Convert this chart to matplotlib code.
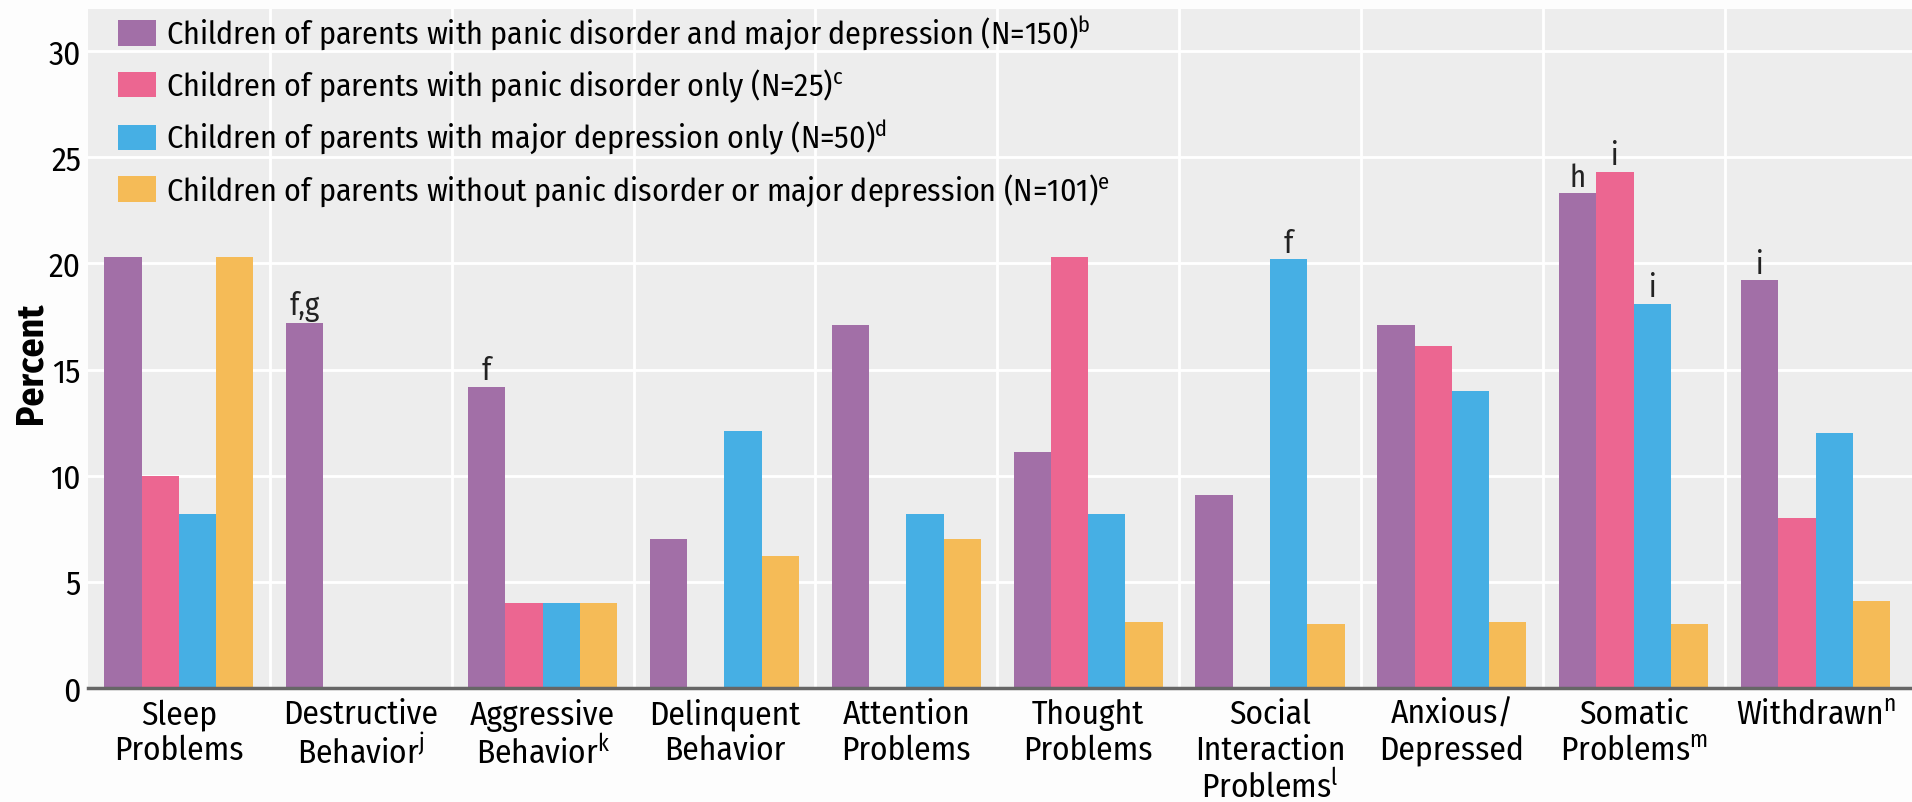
import numpy as np
import matplotlib
matplotlib.use("Agg")
import matplotlib.pyplot as plt

FONT = "Fira Sans Condensed"
plt.rcParams['font.family'] = [FONT, 'DejaVu Sans']
plt.rcParams['mathtext.fontset'] = 'custom'
plt.rcParams['mathtext.rm'] = FONT
plt.rcParams['mathtext.it'] = FONT

# Categories (x tick labels)
categories = [
    "Sleep\nProblems",
    "Destructive\nBehavior$^{\\mathrm{j}}$",
    "Aggressive\nBehavior$^{\\mathrm{k}}$",
    "Delinquent\nBehavior",
    "Attention\nProblems",
    "Thought\nProblems",
    "Social\nInteraction\nProblems$^{\\mathrm{l}}$",
    "Anxious/\nDepressed",
    "Somatic\nProblems$^{\\mathrm{m}}$",
    "Withdrawn$^{\\mathrm{n}}$",
]

series_labels = [
    "Children of parents with panic disorder and major depression (N=150)$^{\\mathrm{b}}$",
    "Children of parents with panic disorder only (N=25)$^{\\mathrm{c}}$",
    "Children of parents with major depression only (N=50)$^{\\mathrm{d}}$",
    "Children of parents without panic disorder or major depression (N=101)$^{\\mathrm{e}}$",
]

panic_and_md = [20.3, 17.2, 14.2, 7.0, 17.1, 11.1, 9.1, 17.1, 23.3, 19.2]
panic_only = [10.0, 0, 4.0, 0, 0, 20.3, 0, 16.1, 24.3, 8.0]
md_only = [8.2, 0, 4.0, 12.1, 8.2, 8.2, 20.2, 14.0, 18.1, 12.0]
neither = [20.3, 0, 4.0, 6.2, 7.0, 3.1, 3.0, 3.1, 3.0, 4.1]

# significance letters: (category index, series index, text)
notes = [(1, 0, "f,g"), (2, 0, "f"), (6, 2, "f"), (8, 0, "h"),
         (8, 1, "i"), (8, 2, "i"), (9, 0, "i")]

colors = ["#a26fa7", "#ec6691", "#46afe4", "#f5bb57"]

series = [panic_and_md, panic_only, md_only, neither]

fig = plt.figure(figsize=(19.12, 8.03), dpi=100, facecolor="#fdfdfd")
ax = fig.add_axes([0.046, 0.142, 0.954, 0.846])
ax.set_facecolor("#ededed")

x = np.arange(len(categories))
w = 0.205
for i, vals in enumerate(series):
    ax.bar(x + (i - 1.5) * w, vals, width=w, color=colors[i],
           label=series_labels[i], zorder=3)

for ci, si, txt in notes:
    ax.annotate(txt, (x[ci] + (si - 1.5) * w, series[si][ci]),
                xytext=(0, 1), textcoords="offset points",
                ha="center", va="bottom", fontsize=22, color="#222222", zorder=4)

ax.set_xlim(-0.5, 9.53)
ax.set_ylim(0, 32)
ax.set_yticks([0, 5, 10, 15, 20, 25, 30])
ax.set_xticks(x)
ax.set_xticklabels(categories, fontsize=24, linespacing=1.15, va="top")
ax.set_xticks(np.arange(0.5, 9.5, 1), minor=True)
ax.tick_params(axis="y", labelsize=24, length=0, pad=5)
ax.tick_params(axis="x", which="both", length=0, pad=7)
ax.grid(axis="y", color="white", linewidth=2, zorder=0)
ax.grid(axis="x", which="minor", color="white", linewidth=2, zorder=0)
ax.set_axisbelow(True)
for s in ["top", "right", "left"]:
    ax.spines[s].set_visible(False)
ax.spines["bottom"].set_color("#666666")
ax.spines["bottom"].set_linewidth(2.5)
ax.spines["bottom"].set_zorder(5)

ax.set_ylabel("Percent", fontsize=27, fontweight="bold")
ax.yaxis.set_label_coords(-0.021, 0.48)

ax.legend(loc="upper left", bbox_to_anchor=(0.0164, 0.992), frameon=False,
          fontsize=23, handlelength=1.2, handleheight=0.85,
          handletextpad=0.3, labelspacing=0.45, borderaxespad=0, borderpad=0)

fig.savefig("out.png", dpi=100, facecolor=fig.get_facecolor())
